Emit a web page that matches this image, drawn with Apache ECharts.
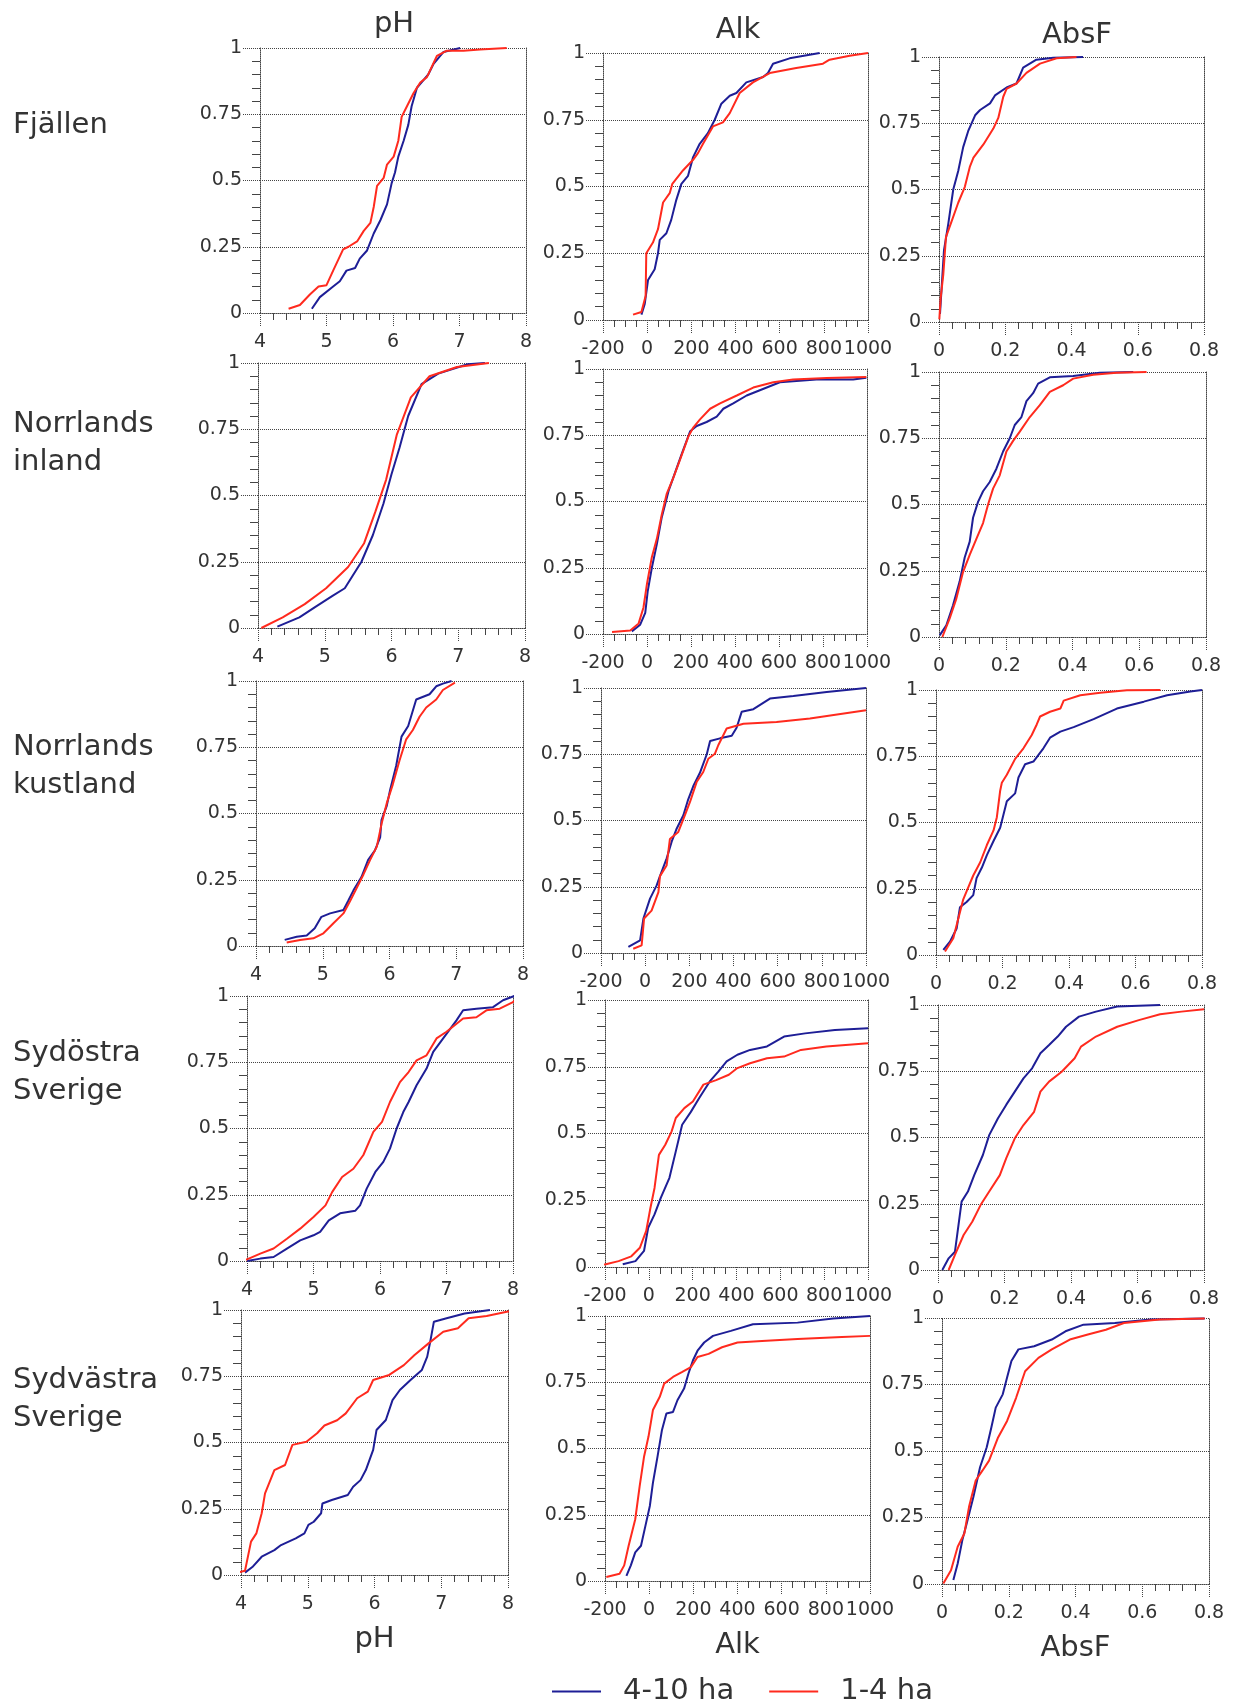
<!DOCTYPE html>
<html>
<head>
<meta charset="utf-8">
<title>pH, Alk, AbsF</title>
<script src="https://cdn.jsdelivr.net/npm/echarts@6/dist/echarts.min.js"></script>
<style>
html,body{margin:0;padding:0;background:#fff}
#main{width:1234px;height:1706px}
</style>
</head>
<body>
<div id="main"></div>
<script>
// kategorier
const regions = ['Fjällen', 'Norrlands\ninland', 'Norrlands\nkustland', 'Sydöstra\nSverige', 'Sydvästra\nSverige'];
const variables = ['pH', 'Alk', 'AbsF'];
const sizeClasses = ['4-10 ha', '1-4 ha'];

// x-axlar: min, max, steg
const xMin = [4, -200, 0];
const xMax = [8, 1000, 0.8];
const xStep = [1, 200, 0.2];
const yTicks = [0, 0.25, 0.5, 0.75, 1];

// Fjällen
const fjPhBlue = [[4.78,0.016],[4.90,0.06],[5.10,0.10],[5.20,0.12],[5.30,0.16],[5.43,0.17],[5.50,0.205],[5.61,0.236],[5.71,0.30],[5.81,0.35],[5.91,0.41],[5.98,0.49],[6.03,0.53],[6.08,0.59],[6.16,0.65],[6.23,0.71],[6.28,0.78],[6.36,0.85],[6.43,0.87],[6.53,0.90],[6.61,0.94],[6.76,0.985],[7.01,1.0]];
const fjPhRed = [[4.43,0.016],[4.60,0.03],[4.75,0.07],[4.88,0.10],[5.0,0.105],[5.10,0.16],[5.25,0.24],[5.33,0.25],[5.46,0.27],[5.56,0.31],[5.66,0.34],[5.71,0.40],[5.76,0.48],[5.86,0.51],[5.91,0.56],[6.01,0.59],[6.08,0.65],[6.13,0.74],[6.21,0.78],[6.31,0.83],[6.41,0.87],[6.51,0.89],[6.66,0.97],[6.81,0.99],[7.06,0.99],[7.31,0.994],[7.71,1.0]];
const fjAlkBlue = [[-26,0.02],[-11,0.06],[4,0.15],[34,0.19],[49,0.25],[57,0.30],[87,0.325],[109,0.375],[132,0.45],[155,0.51],[185,0.54],[208,0.61],[238,0.66],[275,0.70],[306,0.75],[336,0.81],[374,0.84],[404,0.85],[449,0.89],[525,0.91],[547,0.925],[570,0.96],[645,0.98],[781,1.0]];
const fjAlkRed = [[-64,0.02],[-26,0.03],[-7,0.09],[-4,0.25],[26,0.29],[49,0.34],[72,0.44],[102,0.475],[114,0.51],[162,0.56],[208,0.60],[230,0.625],[253,0.66],[298,0.725],[343,0.74],[374,0.775],[419,0.85],[479,0.89],[555,0.925],[675,0.944],[796,0.96],[826,0.975],[917,0.99],[1000,1.0]];
const fjAbsBlue = [[0.003,0.03],[0.008,0.13],[0.015,0.27],[0.028,0.37],[0.043,0.50],[0.058,0.57],[0.073,0.66],[0.088,0.72],[0.109,0.78],[0.124,0.80],[0.154,0.825],[0.169,0.855],[0.204,0.885],[0.234,0.90],[0.254,0.96],[0.294,0.99],[0.345,0.997],[0.435,1.0]];
const fjAbsRed = [[0.001,0.01],[0.005,0.09],[0.013,0.18],[0.021,0.32],[0.038,0.38],[0.058,0.45],[0.078,0.51],[0.093,0.585],[0.104,0.62],[0.134,0.67],[0.164,0.73],[0.179,0.77],[0.194,0.85],[0.204,0.88],[0.234,0.90],[0.264,0.94],[0.305,0.975],[0.355,0.995],[0.415,1.0]];

// Norrlands inland
const niPhBlue = [[4.29,0.005],[4.62,0.04],[4.86,0.08],[5.11,0.12],[5.3,0.15],[5.55,0.25],[5.72,0.35],[5.88,0.47],[6.0,0.58],[6.12,0.68],[6.25,0.80],[6.45,0.92],[6.7,0.96],[7.14,0.995],[7.4,1.0]];
const niPhRed = [[4.05,0.0],[4.37,0.04],[4.70,0.09],[5.02,0.15],[5.35,0.23],[5.59,0.32],[5.76,0.44],[5.92,0.56],[6.08,0.73],[6.29,0.87],[6.57,0.95],[6.98,0.985],[7.46,1.0]];
const niAlkBlue = [[-69,0.01],[-31,0.035],[-8,0.08],[3,0.16],[22,0.25],[45,0.34],[67,0.44],[98,0.54],[128,0.61],[158,0.68],[196,0.765],[226,0.785],[271,0.80],[317,0.82],[347,0.85],[392,0.87],[453,0.90],[513,0.92],[604,0.95],[770,0.96],[937,0.96],[997,0.967]];
const niAlkRed = [[-159,0.008],[-76,0.013],[-38,0.04],[-16,0.10],[0,0.19],[22,0.29],[45,0.36],[67,0.45],[90,0.53],[120,0.59],[151,0.66],[188,0.745],[211,0.78],[241,0.81],[287,0.85],[332,0.87],[408,0.90],[483,0.93],[574,0.95],[664,0.96],[816,0.966],[997,0.97]];
const niAbsBlue = [[0.002,0.006],[0.022,0.044],[0.042,0.12],[0.062,0.21],[0.077,0.30],[0.092,0.36],[0.102,0.45],[0.117,0.51],[0.132,0.55],[0.152,0.585],[0.172,0.635],[0.192,0.70],[0.212,0.75],[0.227,0.80],[0.247,0.83],[0.262,0.89],[0.282,0.92],[0.297,0.956],[0.332,0.98],[0.402,0.985],[0.482,0.997],[0.582,1.0]];
const niAbsRed = [[0.01,0.0],[0.032,0.07],[0.052,0.145],[0.072,0.245],[0.092,0.31],[0.112,0.37],[0.132,0.43],[0.147,0.50],[0.162,0.56],[0.182,0.61],[0.202,0.70],[0.222,0.74],[0.242,0.775],[0.272,0.83],[0.302,0.875],[0.332,0.925],[0.372,0.95],[0.402,0.975],[0.462,0.99],[0.532,0.997],[0.622,1.0]];

// Norrlands kustland
const nkPhBlue = [[4.43,0.023],[4.61,0.035],[4.76,0.04],[4.88,0.067],[4.98,0.11],[5.11,0.123],[5.31,0.136],[5.38,0.17],[5.46,0.21],[5.58,0.26],[5.68,0.325],[5.78,0.36],[5.86,0.41],[5.88,0.475],[5.96,0.53],[6.01,0.59],[6.10,0.68],[6.18,0.79],[6.28,0.83],[6.40,0.93],[6.60,0.95],[6.70,0.98],[6.80,0.99],[6.93,1.0]];
const nkPhRed = [[4.46,0.013],[4.66,0.023],[4.86,0.029],[5.01,0.048],[5.16,0.086],[5.31,0.123],[5.41,0.17],[5.51,0.22],[5.61,0.27],[5.71,0.325],[5.81,0.375],[5.88,0.46],[5.96,0.54],[6.05,0.61],[6.15,0.70],[6.25,0.78],[6.35,0.815],[6.45,0.865],[6.55,0.90],[6.70,0.93],[6.80,0.966],[6.98,0.994]];
const nkAlkBlue = [[-76,0.023],[-23,0.048],[-8,0.13],[22,0.205],[52,0.255],[67,0.29],[97,0.356],[120,0.42],[143,0.47],[173,0.52],[195,0.58],[218,0.63],[248,0.68],[279,0.75],[294,0.80],[339,0.81],[392,0.82],[414,0.85],[437,0.91],[490,0.92],[565,0.96],[671,0.97],[822,0.985],[1000,1.0]];
const nkAlkRed = [[-54,0.016],[-16,0.029],[-5,0.13],[29,0.16],[60,0.23],[67,0.29],[97,0.33],[112,0.43],[150,0.457],[180,0.52],[203,0.57],[233,0.645],[263,0.683],[286,0.733],[316,0.752],[331,0.784],[369,0.847],[445,0.865],[595,0.872],[746,0.885],[1000,0.916]];
const nkAbsBlue = [[0.022,0.019],[0.042,0.05],[0.062,0.10],[0.072,0.18],[0.092,0.20],[0.112,0.226],[0.122,0.29],[0.138,0.33],[0.153,0.377],[0.173,0.43],[0.193,0.48],[0.203,0.53],[0.213,0.58],[0.238,0.61],[0.248,0.67],[0.268,0.72],[0.293,0.73],[0.323,0.78],[0.343,0.82],[0.374,0.843],[0.414,0.86],[0.474,0.89],[0.544,0.93],[0.625,0.956],[0.695,0.98],[0.765,0.994],[0.80,1.0]];
const nkAbsRed = [[0.027,0.013],[0.052,0.063],[0.082,0.21],[0.092,0.24],[0.112,0.30],[0.133,0.35],[0.153,0.415],[0.173,0.47],[0.183,0.52],[0.193,0.62],[0.198,0.65],[0.213,0.68],[0.238,0.74],[0.263,0.78],[0.288,0.83],[0.303,0.87],[0.313,0.90],[0.343,0.918],[0.374,0.93],[0.384,0.96],[0.434,0.98],[0.494,0.99],[0.574,0.999],[0.675,1.0]];

// Sydöstra Sverige
const soPhBlue = [[4.0,0.0],[4.2,0.009],[4.4,0.015],[4.6,0.047],[4.8,0.078],[5.0,0.097],[5.1,0.11],[5.23,0.153],[5.4,0.18],[5.63,0.19],[5.7,0.21],[5.8,0.273],[5.93,0.336],[6.05,0.374],[6.15,0.424],[6.25,0.50],[6.35,0.562],[6.43,0.60],[6.55,0.663],[6.7,0.726],[6.8,0.789],[6.95,0.84],[7.15,0.908],[7.25,0.946],[7.45,0.952],[7.7,0.958],[7.85,0.984],[8.02,1.0]];
const soPhRed = [[3.85,0.003],[4.0,0.006],[4.2,0.028],[4.4,0.047],[4.6,0.084],[4.8,0.122],[5.0,0.166],[5.18,0.21],[5.28,0.26],[5.43,0.317],[5.6,0.348],[5.75,0.40],[5.9,0.487],[6.03,0.525],[6.15,0.60],[6.3,0.675],[6.43,0.713],[6.55,0.757],[6.7,0.776],[6.85,0.84],[7.0,0.865],[7.25,0.915],[7.45,0.92],[7.6,0.946],[7.8,0.952],[8.0,0.977],[8.1,1.0],[8.25,1.0]];
const soAlkBlue = [[-119,0.01],[-61,0.022],[-22,0.06],[-3,0.147],[26,0.197],[55,0.26],[94,0.334],[123,0.433],[152,0.533],[191,0.58],[230,0.633],[278,0.695],[317,0.732],[355,0.77],[404,0.795],[462,0.813],[539,0.826],[617,0.863],[713,0.875],[849,0.888],[1000,0.894]];
const soAlkRed = [[-245,0.007],[-196,0.01],[-138,0.022],[-80,0.04],[-41,0.072],[-12,0.135],[7,0.22],[26,0.296],[46,0.42],[75,0.458],[104,0.508],[123,0.558],[162,0.595],[201,0.62],[249,0.683],[307,0.70],[365,0.72],[404,0.745],[462,0.763],[539,0.782],[617,0.788],[694,0.813],[810,0.826],[1000,0.838]];
const soAbsBlue = [[0.013,0.0],[0.032,0.044],[0.051,0.069],[0.071,0.258],[0.090,0.296],[0.109,0.358],[0.135,0.434],[0.154,0.509],[0.180,0.572],[0.205,0.623],[0.231,0.673],[0.257,0.723],[0.283,0.761],[0.308,0.818],[0.334,0.849],[0.360,0.881],[0.385,0.918],[0.424,0.956],[0.475,0.975],[0.539,0.994],[0.668,1.0]];
const soAbsRed = [[0.032,0.0],[0.051,0.057],[0.077,0.132],[0.103,0.182],[0.128,0.245],[0.154,0.296],[0.186,0.358],[0.205,0.421],[0.231,0.497],[0.257,0.547],[0.289,0.597],[0.308,0.673],[0.334,0.711],[0.372,0.748],[0.411,0.799],[0.430,0.843],[0.475,0.881],[0.539,0.918],[0.604,0.943],[0.668,0.965],[0.732,0.975],[0.80,0.984]];

// Sydvästra Sverige
const svPhBlue = [[4.06,0.009],[4.17,0.03],[4.31,0.069],[4.5,0.094],[4.6,0.113],[4.82,0.138],[4.95,0.157],[5.01,0.189],[5.09,0.201],[5.2,0.233],[5.22,0.27],[5.36,0.283],[5.6,0.302],[5.68,0.333],[5.79,0.358],[5.87,0.396],[5.98,0.472],[6.03,0.547],[6.17,0.585],[6.27,0.66],[6.38,0.698],[6.54,0.736],[6.71,0.774],[6.79,0.824],[6.84,0.887],[6.89,0.956],[7.08,0.969],[7.35,0.987],[7.73,1.0]];
const svPhRed = [[3.88,0.004],[4.06,0.016],[4.15,0.126],[4.23,0.157],[4.31,0.233],[4.36,0.308],[4.5,0.396],[4.66,0.415],[4.77,0.491],[4.98,0.503],[5.14,0.535],[5.25,0.564],[5.44,0.584],[5.57,0.61],[5.74,0.667],[5.9,0.692],[5.98,0.736],[6.22,0.755],[6.44,0.792],[6.6,0.83],[6.81,0.874],[7.03,0.918],[7.25,0.931],[7.41,0.969],[7.68,0.977],[8.0,0.994],[8.43,1.0]];
const svAlkBlue = [[-103,0.019],[-83,0.059],[-63,0.108],[-37,0.133],[-17,0.208],[3,0.283],[17,0.37],[38,0.47],[58,0.57],[78,0.632],[108,0.638],[128,0.682],[158,0.726],[178,0.783],[198,0.832],[219,0.869],[249,0.90],[289,0.925],[370,0.944],[470,0.969],[672,0.975],[833,0.991],[1000,1.0]];
const svAlkRed = [[-194,0.015],[-134,0.027],[-113,0.059],[-93,0.133],[-63,0.233],[-43,0.358],[-23,0.47],[-3,0.545],[17,0.645],[48,0.695],[68,0.745],[108,0.77],[148,0.788],[189,0.807],[219,0.845],[269,0.857],[330,0.882],[400,0.90],[511,0.906],[672,0.913],[873,0.921],[1000,0.925]];
const svAbsBlue = [[0.034,0.015],[0.047,0.077],[0.061,0.165],[0.074,0.227],[0.094,0.327],[0.114,0.439],[0.134,0.514],[0.148,0.589],[0.161,0.663],[0.182,0.713],[0.195,0.776],[0.208,0.838],[0.229,0.882],[0.276,0.894],[0.329,0.919],[0.37,0.95],[0.424,0.975],[0.518,0.981],[0.625,0.994],[0.787,0.998]];
const svAbsRed = [[0.004,0.002],[0.027,0.052],[0.047,0.14],[0.067,0.19],[0.081,0.29],[0.101,0.389],[0.121,0.426],[0.141,0.464],[0.168,0.551],[0.195,0.613],[0.222,0.70],[0.249,0.80],[0.289,0.85],[0.329,0.882],[0.383,0.919],[0.437,0.938],[0.491,0.956],[0.545,0.981],[0.652,0.994],[0.787,0.998]];

const blueSeries = [fjPhBlue, fjAlkBlue, fjAbsBlue, niPhBlue, niAlkBlue, niAbsBlue, nkPhBlue, nkAlkBlue, nkAbsBlue, soPhBlue, soAlkBlue, soAbsBlue, svPhBlue, svAlkBlue, svAbsBlue];
const redSeries = [fjPhRed, fjAlkRed, fjAbsRed, niPhRed, niAlkRed, niAbsRed, nkPhRed, nkAlkRed, nkAbsRed, soPhRed, soAlkRed, soAbsRed, svPhRed, svAlkRed, svAbsRed];

// placering av varje ruta: left, top, width, height
const boxes = [
  [260, 48, 266, 265], [603, 53, 265, 267], [939, 57, 265, 265],
  [258, 363, 267, 265], [603, 369, 264, 265], [939, 372, 267, 265],
  [256, 681, 267, 265], [601, 688, 265, 265], [936, 690, 266, 265],
  [247, 996, 266, 265], [605, 1000, 263, 267], [938, 1005, 266, 265],
  [241, 1310, 267, 265], [605, 1316, 265, 265], [942, 1318, 267, 266]
];
const rowLabelY = [125, 443, 766, 1072, 1399];
const colTitles = [[394, 24], [738, 30], [1077, 35]];

const FONT = 'DejaVu Sans';
const TXT = '#333';
const LINE = '#444';
const blue = '#1e1e96';
const red = '#ff2a1e';

var grid = [], xAxis = [], yAxis = [], series = [], graphic = [];

// utan tusentalsavgränsare
function plain(v) { return String(Math.round(v * 1000) / 1000); }

for (var r = 0; r < regions.length; r++) {
  for (var c = 0; c < variables.length; c++) {
    var i = r * 3 + c;
    var b = boxes[i];
    grid.push({left: b[0], top: b[1], width: b[2], height: b[3], outerBoundsMode: 'none'});
    var xa = {
      gridIndex: i, type: 'value', min: xMin[c], max: xMax[c], interval: xStep[c],
      axisLine: {show: true, onZero: false, lineStyle: {color: LINE, type: 'dotted', width: 1}},
      axisTick: {show: true, length: 14, lineStyle: {color: LINE, type: 'dotted'}},
      minorTick: {show: true, splitNumber: [5, 4, 5][c], length: 7, lineStyle: {color: LINE}},
      splitLine: {show: false},
      axisLabel: {margin: 20, fontSize: 19, fontFamily: FONT, color: TXT, showMinLabel: true, showMaxLabel: true, hideOverlap: false, formatter: plain}
    };
    if (r === regions.length - 1) {
      xa.name = variables[c];
      xa.nameLocation = 'middle';
      xa.nameGap = 50;
      xa.nameTextStyle = {fontSize: 29, fontFamily: FONT, color: TXT};
    }
    xAxis.push(xa);
    yAxis.push({
      gridIndex: i, type: 'value', min: 0, max: 1, interval: 0.25,
      axisLine: {show: true, onZero: false, lineStyle: {color: LINE, type: 'dotted', width: 1}},
      axisTick: {show: true, length: 17, lineStyle: {color: LINE, type: 'dotted'}},
      minorTick: {show: true, splitNumber: 5, length: 8, lineStyle: {color: LINE}},
      splitLine: {show: true, lineStyle: {color: LINE, type: 'dotted', width: 1}},
      axisLabel: {margin: 18, fontSize: 19, fontFamily: FONT, color: TXT, formatter: plain}
    });
    // högerkant
    yAxis.push({
      gridIndex: i, type: 'value', min: 0, max: 1, position: 'right',
      axisLine: {show: true, onZero: false, lineStyle: {color: LINE, type: 'dotted', width: 1}},
      axisTick: {show: false}, axisLabel: {show: false}, splitLine: {show: false}
    });
    series.push({
      name: sizeClasses[0], type: 'line', xAxisIndex: i, yAxisIndex: i * 2,
      data: blueSeries[i], showSymbol: false, clip: false,
      lineStyle: {color: blue, width: 2}, itemStyle: {color: blue}
    });
    series.push({
      name: sizeClasses[1], type: 'line', xAxisIndex: i, yAxisIndex: i * 2,
      data: redSeries[i], showSymbol: false, clip: false,
      lineStyle: {color: red, width: 2}, itemStyle: {color: red}
    });
  }
  graphic.push({
    type: 'text', left: 13, top: rowLabelY[r] - (regions[r].indexOf('\n') >= 0 ? 38 : 19),
    style: {text: regions[r], font: '29px "' + FONT + '"', fill: TXT, lineHeight: 38}
  });
}

for (var c = 0; c < variables.length; c++) {
  graphic.push({
    type: 'text', x: colTitles[c][0], y: colTitles[c][1],
    style: {text: variables[c], font: '29px "' + FONT + '"', fill: TXT, align: 'center', verticalAlign: 'middle'}
  });
}

var chart = echarts.init(document.getElementById('main'));
var option = {
  animation: false,
  backgroundColor: '#fff',
  grid: grid,
  xAxis: xAxis,
  yAxis: yAxis,
  series: series,
  graphic: graphic,
  legend: {
    data: sizeClasses, left: 547, top: 1672, icon: 'rect',
    itemWidth: 49, itemHeight: 2, itemGap: 35,
    textStyle: {fontSize: 29, fontFamily: FONT, color: TXT, padding: [0, 0, 0, 17]}
  }
};
option && chart.setOption(option);
</script>
</body>
</html>
